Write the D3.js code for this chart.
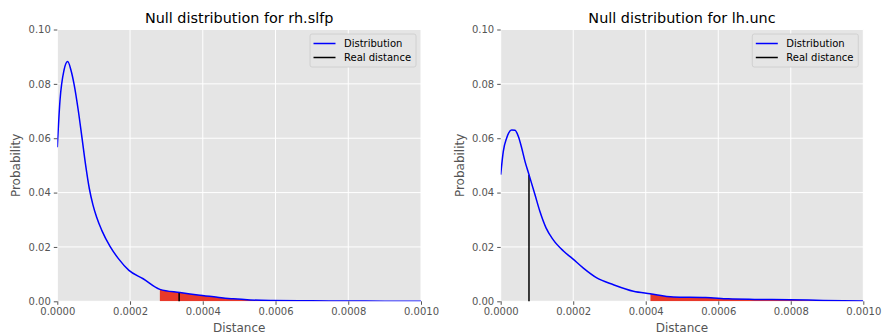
<!DOCTYPE html>
<html>
<head>
<meta charset="utf-8">
<script src="https://d3js.org/d3.v7.min.js"></script>
<style>
  body { margin: 0; background: #fff; }
  svg { font-family: "DejaVu Sans", sans-serif; }
</style>
</head>
<body>
<div id="chart"></div>
<script>
// values
var xTicks = [0, 0.0002, 0.0004, 0.0006, 0.0008, 0.001]
var yTicks = [0, 0.02, 0.04, 0.06, 0.08, 0.10]

var slfpDistance = [0, 0.0000074, 0.0000184, 0.0000286, 0.0000376, 0.0000459, 0.0000577, 0.000068, 0.000078,
  0.000088, 0.000098, 0.000108, 0.000122, 0.000145, 0.000168, 0.000197, 0.000236, 0.000282, 0.000337,
  0.000392, 0.00044, 0.000484, 0.00053, 0.000593, 0.0007, 0.0008, 0.0009, 0.001]
var slfpProb = [0.0567, 0.0739, 0.085, 0.0882, 0.085, 0.080, 0.0702, 0.060, 0.050,
  0.0415, 0.0355, 0.031, 0.0262, 0.0202, 0.0157, 0.0114, 0.0083, 0.0044, 0.0032,
  0.0022, 0.0015, 0.0009, 0.0005, 0.0003, 0.0002, 0.0001, 0.00005, 0.00002]
var slfpReal = 0.000335
var slfpCritical = 0.000282

var uncDistance = [0, 0.0000072, 0.0000165, 0.0000303, 0.0000394, 0.0000485, 0.0000579, 0.000067, 0.000078,
  0.0000946, 0.000108, 0.000125, 0.000145, 0.000173, 0.000198, 0.000228, 0.000265, 0.000311, 0.000366,
  0.000412, 0.000476, 0.000565, 0.000628, 0.0007, 0.000797, 0.00089, 0.001]
var uncProb = [0.0466, 0.0552, 0.0601, 0.063, 0.0629, 0.0607, 0.0564, 0.0515, 0.0466,
  0.0392, 0.0331, 0.027, 0.0226, 0.0185, 0.0157, 0.0122, 0.0086, 0.0061, 0.0037,
  0.0028, 0.0016, 0.0014, 0.0009, 0.0007, 0.0006, 0.0003, 0.0001]
var uncReal = 0.000078
var uncCritical = 0.000413

var W = 884, H = 335

var svg = d3.select("#chart")
  .append("svg")
  .attr("width", W)
  .attr("height", H)

function drawPanel(id, left, right, title, dist, prob, real, critical) {
  var top = 29.5, bottom = 301.3
  var width = right - left, height = bottom - top

  var g = svg.append("g")
    .attr("transform", "translate(" + left + "," + top + ")")

  var x = d3.scaleLinear().domain([0, 0.001]).range([0, width])
  var y = d3.scaleLinear().domain([0, 0.1]).range([height, 0])

  // background + grid
  g.append("rect")
    .attr("width", width)
    .attr("height", height)
    .attr("fill", "#e5e5e5")

  g.selectAll(".vgrid")
    .data(xTicks)
    .enter().append("line")
    .attr("x1", d => x(d)).attr("x2", d => x(d))
    .attr("y1", 0).attr("y2", height)
    .attr("stroke", "#fff")
    .attr("stroke-width", 1)

  g.selectAll(".hgrid")
    .data(yTicks)
    .enter().append("line")
    .attr("y1", d => y(d)).attr("y2", d => y(d))
    .attr("x1", 0).attr("x2", width)
    .attr("stroke", "#fff")
    .attr("stroke-width", 1)

  var pts = dist.map((d, i) => [d, prob[i]])

  g.append("clipPath").attr("id", "clip" + id)
    .append("rect").attr("width", width).attr("height", height)
  g.append("clipPath").attr("id", "crit" + id)
    .append("rect").attr("x", x(critical)).attr("width", width - x(critical)).attr("height", height)

  // critical region
  var area = d3.area()
    .curve(d3.curveMonotoneX)
    .x(d => x(d[0]))
    .y0(y(0))
    .y1(d => y(d[1]))
  g.append("path")
    .datum(pts)
    .attr("d", area)
    .attr("fill", "#e8392a")
    .attr("clip-path", "url(#crit" + id + ")")

  // real distance
  var i = d3.bisector(d => d).left(dist, real)
  var t = (real - dist[i - 1]) / (dist[i] - dist[i - 1])
  var realProb = prob[i - 1] + t * (prob[i] - prob[i - 1])
  g.append("line")
    .attr("x1", x(real)).attr("x2", x(real))
    .attr("y1", y(0)).attr("y2", y(realProb))
    .attr("stroke", "#000")
    .attr("stroke-width", 1.5)

  var line = d3.line()
    .curve(d3.curveMonotoneX)
    .x(d => x(d[0]))
    .y(d => y(d[1]))
  g.append("path")
    .datum(pts)
    .attr("d", line)
    .attr("fill", "none")
    .attr("stroke", "#0000ff")
    .attr("stroke-width", 1.5)
    .attr("clip-path", "url(#clip" + id + ")")

  // axes
  var xAxis = g.append("g")
    .attr("transform", "translate(0," + height + ")")
    .call(d3.axisBottom(x).tickValues(xTicks).tickFormat(d3.format(".4f")).tickSize(3.5).tickPadding(3))
  var yAxis = g.append("g")
    .call(d3.axisLeft(y).tickValues(yTicks).tickFormat(d3.format(".2f")).tickSize(3.5).tickPadding(3))
  ;[xAxis, yAxis].forEach(a => {
    a.select(".domain").remove()
    a.selectAll("line").attr("stroke", "#555")
    a.selectAll("text").attr("fill", "#555").style("font-size", "10px").style("font-family", "DejaVu Sans")
  })

  g.append("text")
    .attr("x", width / 2)
    .attr("y", -6.5)
    .style("text-anchor", "middle")
    .style("font-size", "14.4px")
    .attr("fill", "#000")
    .text(title)

  g.append("text")
    .attr("x", width / 2)
    .attr("y", height + 30.5)
    .style("text-anchor", "middle")
    .style("font-size", "12px")
    .attr("fill", "#555")
    .text("Distance")

  g.append("text")
    .attr("transform", "translate(" + (-37) + "," + (height / 2) + ") rotate(-90)")
    .style("text-anchor", "middle")
    .style("font-size", "12px")
    .attr("fill", "#555")
    .text("Probability")

  // legend
  var lg = g.append("g")
    .attr("transform", "translate(" + (width - 111) + "," + 4.5 + ")")
  lg.append("rect")
    .attr("width", 106)
    .attr("height", 33)
    .attr("rx", 2)
    .attr("fill", "#e5e5e5")
    .attr("stroke", "#cccccc")
    .attr("stroke-width", 0.8)
  var items = [["Distribution", "#0000ff"], ["Real distance", "#000"]]
  items.forEach((it, k) => {
    lg.append("line")
      .attr("x1", 3.5).attr("x2", 25.5)
      .attr("y1", 9.5 + k * 14).attr("y2", 9.5 + k * 14)
      .attr("stroke", it[1])
      .attr("stroke-width", 1.5)
    lg.append("text")
      .attr("x", 34)
      .attr("y", 13 + k * 14)
      .style("font-size", "10px")
      .attr("fill", "#000")
      .text(it[0])
  })
}

drawPanel("a", 57.3, 421, "Null distribution for rh.slfp", slfpDistance, slfpProb, slfpReal, slfpCritical)
drawPanel("b", 500.7, 863.3, "Null distribution for lh.unc", uncDistance, uncProb, uncReal, uncCritical)
</script>
</body>
</html>
